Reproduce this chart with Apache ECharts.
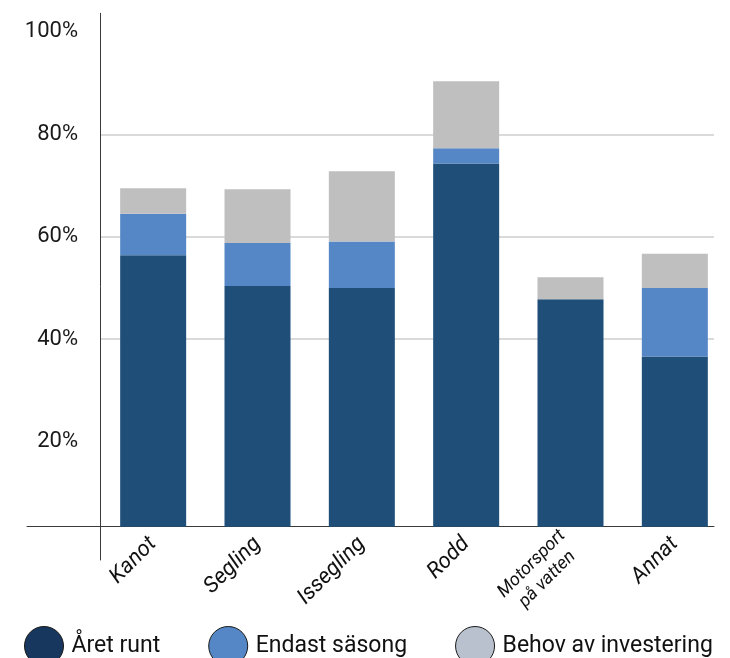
<!DOCTYPE html>
<html>
<head>
<meta charset="utf-8">
<script src="https://cdn.jsdelivr.net/npm/echarts@6/dist/echarts.min.js"></script>
<style>
html,body{margin:0;padding:0;background:#fff;}
#chart{width:730px;height:658px;}
</style>
</head>
<body>
<div id="chart"></div>
<script>
const categories = ['Kanot', 'Segling', 'Issegling', 'Rodd', 'Motorsport\npå vatten', 'Annat'];
const seriesNames = ['Året runt', 'Endast säsong', 'Behov av investering'];
const aretRunt = [56.4, 50.4, 50.0, 74.3, 47.8, 36.6];
const endastSasong = [8.1, 8.4, 9.1, 3.0, 0, 13.4];
const behovInvestering = [5.0, 10.5, 13.7, 13.1, 4.3, 6.7];
const yTicks = [20, 40, 60, 80, 100];
const yMin = 3.38, yMax = 103.65;

const barColors = ['#1F4F79', '#5587C6', '#BFBFBF'];
const legendColors = ['#17375E', '#5587C6', '#B9C1CF'];
const FONT = 'Roboto';

const chart = echarts.init(document.getElementById('chart'), null, {renderer: 'canvas'});
const values = [aretRunt, endastSasong, behovInvestering];

chart.setOption({
  animation: false,
  textStyle: {fontFamily: FONT},
  grid: [
    {left: 101, right: 3, top: 13.3, bottom: 131.3},
    {left: 100, right: 16, top: 13.3, bottom: 131.3},
    {left: 27, right: 16, top: 13.3, bottom: 98}
  ],
  legend: {
    left: 19, top: 621,
    itemWidth: 39, itemHeight: 39, itemGap: 48,
    icon: 'circle',
    textStyle: {fontFamily: FONT, fontSize: 23, color: '#111', padding: [0, 0, 0, 3]},
    data: seriesNames.map((n, i) => ({name: n, itemStyle: {color: legendColors[i], borderColor: '#1a1a1a', borderWidth: 1}}))
  },
  xAxis: [
    {
      type: 'category', gridIndex: 0, data: categories,
      axisLine: {show: false, onZero: false}, axisTick: {show: false},
      axisLabel: {
        interval: 0, rotate: 45, margin: 14,
        fontFamily: FONT, fontSize: 22, fontStyle: 'italic', color: '#111',
        formatter: v => v.indexOf('\n') >= 0 ? v.split('\n').map(s => '{s|' + s + '}').join('\n') : v,
        rich: {s: {fontFamily: FONT, fontSize: 18, fontStyle: 'italic', color: '#111', lineHeight: 22, align: 'center'}}
      }
    },
    {type: 'value', gridIndex: 1, show: false},
    {
      type: 'value', gridIndex: 2, min: 0, max: 1, offset: -33.3,
      axisLine: {show: true, onZero: false, lineStyle: {color: '#3a3a3a', width: 1}},
      axisTick: {show: false}, axisLabel: {show: false}, splitLine: {show: false}
    }
  ],
  yAxis: [
    {type: 'value', gridIndex: 0, min: yMin, max: yMax, show: false, splitLine: {show: false}},
    {
      type: 'value', gridIndex: 1, min: yMin, max: yMax,
      axisLine: {show: false, onZero: false},
      axisTick: {show: false, customValues: yTicks},
      axisLabel: {customValues: yTicks, formatter: '{value}%', margin: 22, fontFamily: FONT, fontSize: 22, color: '#1a1a1a'},
      splitLine: {show: true, showMinLine: false, showMaxLine: false, lineStyle: {color: '#dadada', width: 2}}
    },
    {
      type: 'value', gridIndex: 2, min: 0, max: 1, position: 'left', offset: -73,
      axisLine: {show: true, onZero: false, lineStyle: {color: '#3a3a3a', width: 1}},
      axisTick: {show: false}, axisLabel: {show: false}, splitLine: {show: false}
    }
  ],
  series: seriesNames.map((n, i) => ({
    name: n, type: 'bar', stack: 'total', xAxisIndex: 0, yAxisIndex: 0,
    barWidth: 66, data: values[i],
    itemStyle: {color: barColors[i]}
  }))
});
</script>
</body>
</html>
